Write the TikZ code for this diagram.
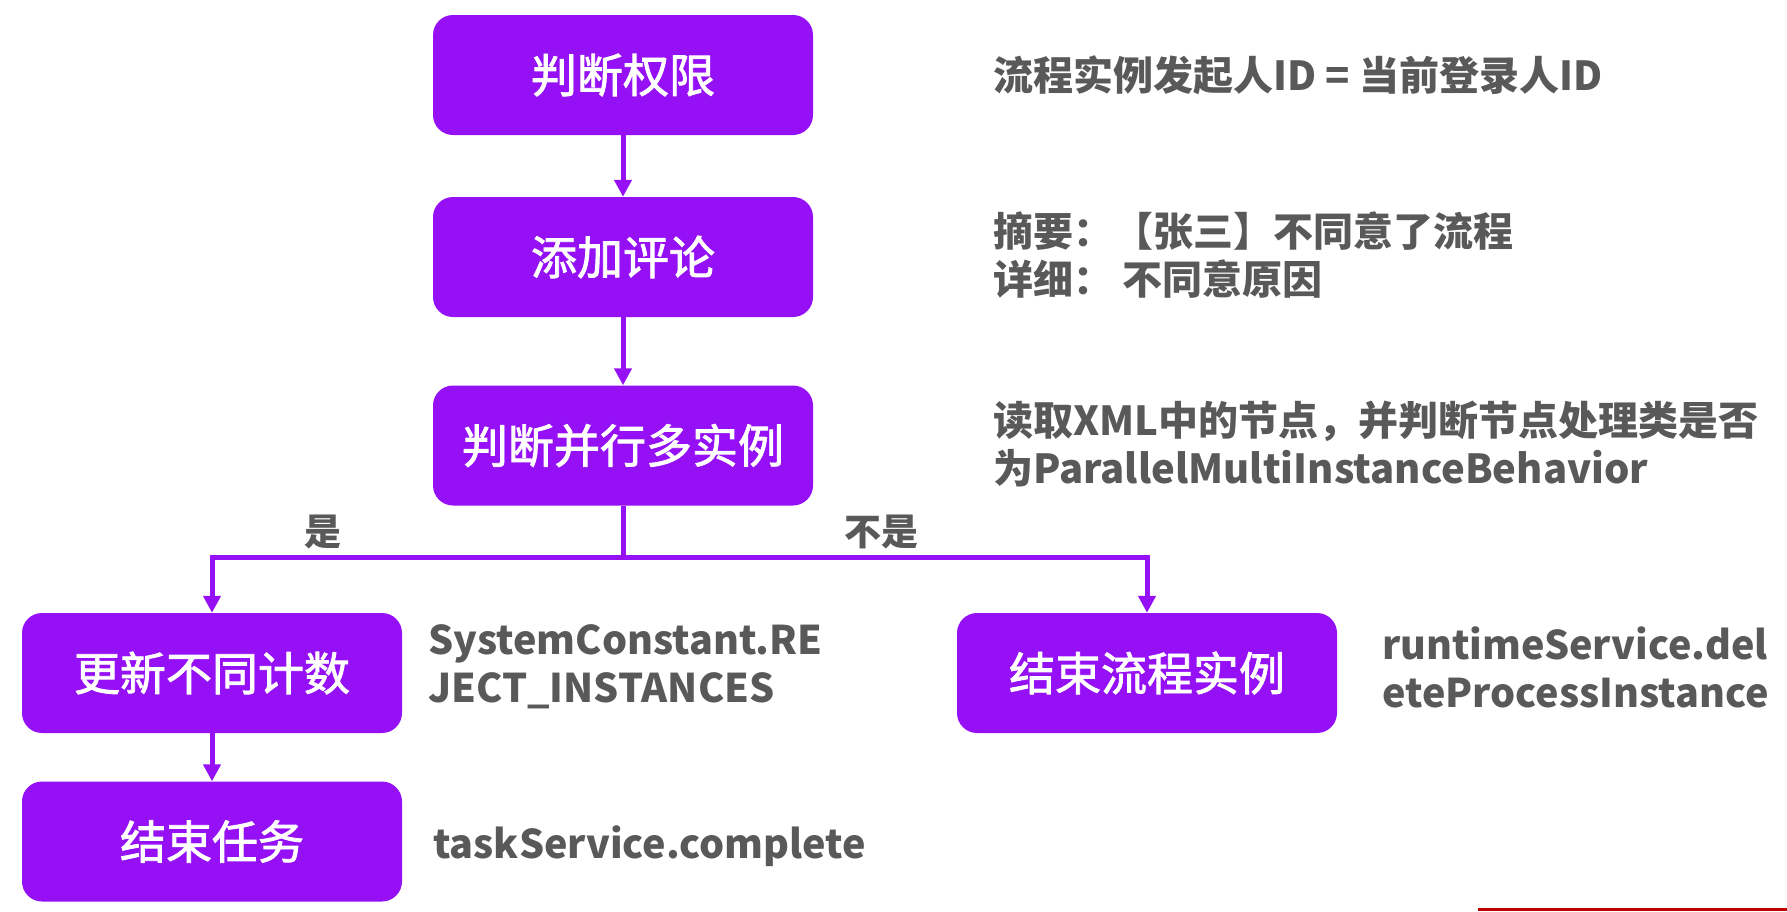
\documentclass[tikz,border=0pt]{standalone}
\usepackage{fontspec}
\setmainfont{Noto Sans CJK SC}
\newfontfamily\boxfont{Noto Sans CJK SC}[FakeBold=1.8]
\usetikzlibrary{arrows.meta}
\definecolor{boxpurple}{RGB}{149,16,245}
\definecolor{txtgray}{RGB}{89,89,89}
\definecolor{redline}{RGB}{192,0,0}
\tikzset{
  stepbox/.style={fill=boxpurple, rounded corners=20pt, minimum width=380pt, minimum height=120pt, inner sep=0pt, text=white, font=\fontsize{46}{50}\selectfont\boxfont},
  note/.style={anchor=west, inner sep=0pt, text=txtgray, align=left, font=\fontsize{40}{48}\selectfont\bfseries},
  codenote/.style={note, font=\fontsize{39.5}{48}\selectfont\bfseries},
  branch/.style={text=txtgray, inner sep=0pt, font=\fontsize{37}{40}\selectfont\bfseries},
  flow/.style={draw=boxpurple, line width=5pt, -{Triangle[width=17pt,length=17pt]}},
  plain/.style={draw=boxpurple, line width=5pt},
}
\begin{document}
\begin{tikzpicture}[x=1pt,y=-1pt]
\useasboundingbox (0,0) rectangle (1787,911);
\node[stepbox] (b1) at (623,75) {判断权限};
\node[stepbox] (b2) at (623,257) {添加评论};
\node[stepbox] (b3) at (623,445.5) {判断并行多实例};
\node[stepbox] (b4) at (212,673) {更新不同计数};
\node[stepbox] (b5) at (212,841.5) {结束任务};
\node[stepbox] (b6) at (1147,673) {结束流程实例};
\coordinate (j) at (623,557);
\draw[flow] (b1) -- (b2);
\draw[flow] (b2) -- (b3);
\draw[plain] (b3.south) -- (j);
\draw[flow] (j) -| (b4.north);
\draw[flow] (j) -| (b6.north);
\draw[flow] (b4) -- (b5);
\node[branch] (yes) at (323,532) {是};
\node[branch] (no) at (881,532) {不是};
\node[note] (n1) at (993,75) {流程实例发起人ID = 当前登录人ID};
\node[note] (n2) at (993,255) {摘要：【张三】不同意了流程\\详细： 不同意原因};
\node[note] (n3) at (993,444) {读取XML中的节点，并判断节点处理类是否\\为ParallelMultiInstanceBehavior};
\node[codenote] (n4) at (428,667) {SystemConstant.RE\\JECT\_INSTANCES};
\node[codenote] (n6) at (1382,667) {runtimeService.del\\eteProcessInstance};
\node[codenote] (n5) at (433,846) {taskService.complete};
\fill[redline] (1478,907.5) rectangle (1787,911);
\end{tikzpicture}
\end{document}
